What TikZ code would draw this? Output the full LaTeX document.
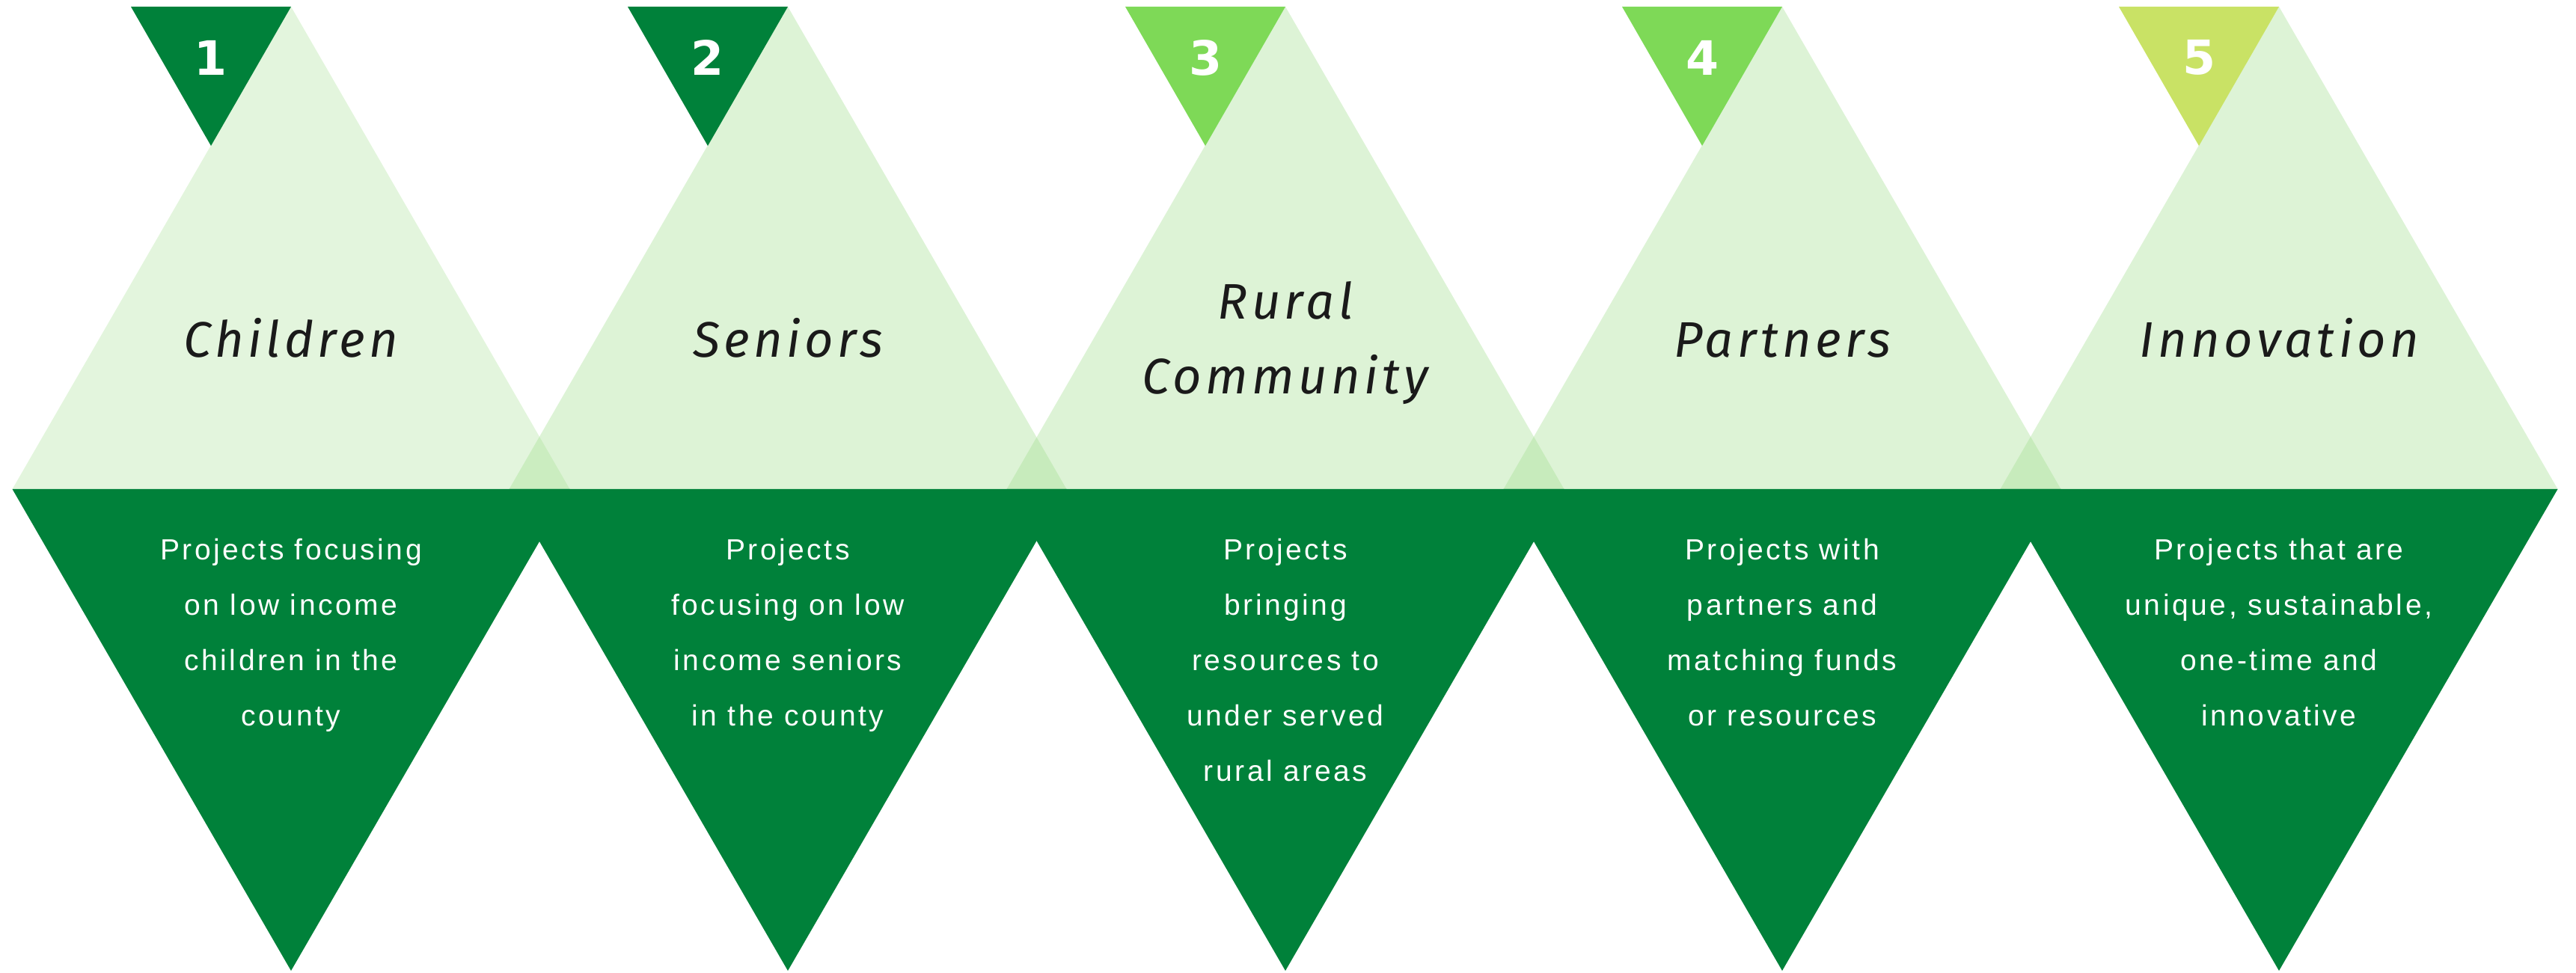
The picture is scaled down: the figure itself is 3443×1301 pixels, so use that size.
\documentclass[tikz,border=0pt]{standalone}
\usepackage{fontspec}
\setmainfont{Liberation Sans}
\newfontfamily\titlefont{Fira Sans}[LetterSpace=8]
\newfontfamily\numfont{DejaVu Sans}
\newfontfamily\bodyfont{Liberation Sans}[LetterSpace=9]
\usepackage{tikz}
\definecolor{darkgreen}{HTML}{00813A}
\definecolor{leafgreen}{HTML}{9EDD8A}
\definecolor{limegreen}{HTML}{7ED957}
\definecolor{yellowgreen}{HTML}{C9E265}
\definecolor{titlegray}{HTML}{1A1A1A}
\tikzset{
  numtext/.style={text=white, inner sep=0pt, font=\numfont\bfseries\fontsize{18}{18}\selectfont},
  titletext/.style={text=titlegray, align=center, anchor=base, inner sep=0pt,
    font=\titlefont\itshape\fontsize{19}{28.5}\selectfont},
  bodytext/.style={text=white, align=center, anchor=base, inner sep=0pt,
    font=\bodyfont\fontsize{11.1}{21}\selectfont},
}

\begin{document}
\begin{tikzpicture}[x=0.01cm,y=-0.01cm]
\useasboundingbox (0,0) rectangle (3443,1301);
\def\Side{745}
\def\Top{9}
\def\Base{654}
\def\Tip{1298}
\def\Flag{214}
\def\FlagHigh{186}

% light triangles
\foreach \cx/\op in {389/0.29,1053/0.35,1718/0.35,2382/0.35,3046/0.35}{
  \fill[leafgreen, fill opacity=\op]
    (\cx,\Top) -- ({\cx-\Side/2},\Base) -- ({\cx+\Side/2},\Base) -- cycle;
}
% dark band
\foreach \cx in {389,1053,1718,2382,3046}{
  \fill[darkgreen]
    ({\cx-\Side/2},\Base) -- ({\cx+\Side/2},\Base) -- (\cx,\Tip) -- cycle;
}
% number flags
\foreach \cx/\col/\n in {389/darkgreen/1,1053/darkgreen/2,1718/limegreen/3,2382/limegreen/4,3046/yellowgreen/5}{
  \fill[\col] ({\cx-\Flag},\Top) -- (\cx,\Top) -- ({\cx-\Flag/2},{\Top+\FlagHigh}) -- cycle;
  \node[numtext] (num\n) at ({\cx-\Flag/2},77) {\n};
}

% base anchor = baseline of the last line
\node[titletext] (children) at (389,478) {Children};
\node[titletext] (seniors) at (1053,478) {Seniors};
\node[titletext] (rural) at (1718,527) {Rural\\Community};
\node[titletext] (partners) at (2382,478) {Partners};
\node[titletext] (innovation) at (3046,478) {Innovation};

\node[bodytext] (children text) at (389,970) {Projects focusing\\on low income\\children in the\\county};
\node[bodytext] (seniors text) at (1053,970) {Projects\\focusing on low\\income seniors\\in the county};
\node[bodytext] (rural text) at (1718,1044) {Projects\\bringing\\resources to\\under served\\rural areas};
\node[bodytext] (partners text) at (2382,970) {Projects with\\partners and\\matching funds\\or resources};
\node[bodytext] (innovation text) at (3046,970) {Projects that are\\unique, sustainable,\\one-time and\\innovative};
\end{tikzpicture}
\end{document}
